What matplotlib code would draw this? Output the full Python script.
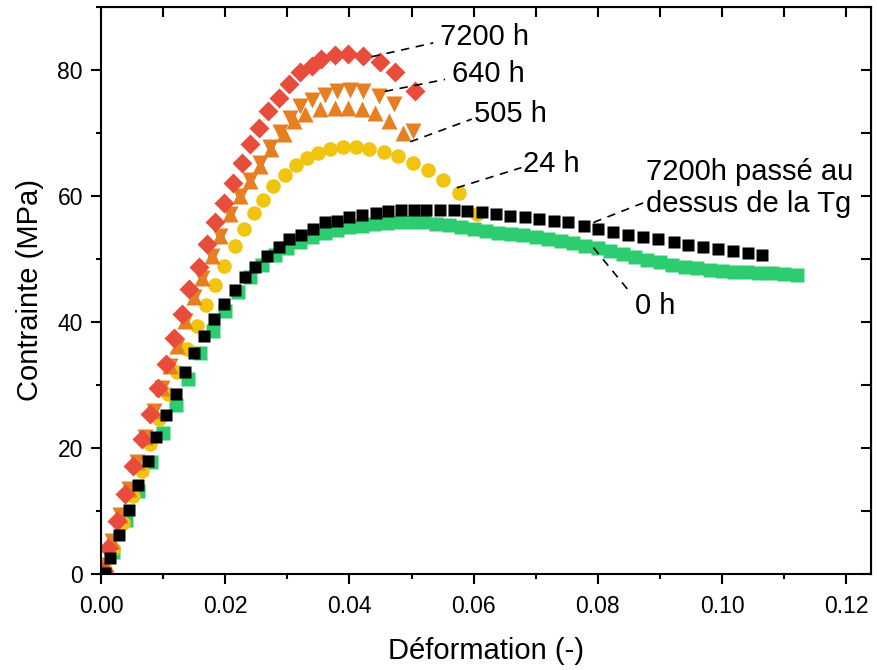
import matplotlib
matplotlib.use('Agg')
import matplotlib.pyplot as plt
from matplotlib.ticker import MultipleLocator
from matplotlib import font_manager

plt.rcParams['font.family'] = ['Liberation Sans', 'DejaVu Sans']

# 0 h (vert)
x_0h = [0.000, 0.002, 0.004, 0.006, 0.008, 0.010, 0.012, 0.014, 0.016, 0.018,
        0.020, 0.022, 0.024, 0.026, 0.028, 0.030, 0.032, 0.034, 0.036, 0.038,
        0.040, 0.042, 0.044, 0.046, 0.048, 0.050, 0.052, 0.054, 0.056, 0.058,
        0.060, 0.062, 0.064, 0.066, 0.068, 0.070, 0.072, 0.074, 0.076, 0.078,
        0.080, 0.082, 0.084, 0.086, 0.088, 0.090, 0.092, 0.094, 0.096, 0.098,
        0.100, 0.102, 0.104, 0.106, 0.108, 0.110, 0.112]
y_0h = [0.0, 3.5, 8.5, 13.2, 17.8, 22.3, 26.8, 31.0, 35.0, 38.6,
        41.8, 44.8, 47.2, 49.1, 50.6, 51.8, 52.7, 53.5, 54.1, 54.6,
        55.0, 55.3, 55.5, 55.7, 55.8, 55.8, 55.8, 55.6, 55.4, 55.1,
        54.8, 54.5, 54.2, 54.0, 53.8, 53.5, 53.1, 52.8, 52.5, 52.1,
        51.7, 51.2, 50.8, 50.3, 49.9, 49.5, 49.1, 48.8, 48.5, 48.3,
        48.1, 48.0, 47.9, 47.8, 47.7, 47.6, 47.5]

# 24 h (jaune)
x_24h = [0.0006, 0.0020, 0.0035, 0.0051, 0.0066, 0.0079, 0.0094, 0.0108, 0.0123, 0.0139,
         0.0154, 0.0169, 0.0184, 0.0198, 0.0216, 0.0230, 0.0246, 0.0261, 0.0277, 0.0296,
         0.0314, 0.0331, 0.0350, 0.0369, 0.0390, 0.0411, 0.0432, 0.0455, 0.0479, 0.0503,
         0.0527, 0.0551, 0.0577, 0.0605]
y_24h = [0.8, 3.9, 8.1, 12.4, 16.3, 20.6, 24.6, 28.5, 32.1, 35.7,
         39.4, 42.7, 45.9, 48.9, 52.1, 54.7, 57.3, 59.3, 61.6, 63.4,
         64.9, 66.1, 66.9, 67.4, 67.8, 67.8, 67.4, 67.0, 66.3, 65.3,
         64.2, 62.6, 60.5, 57.1]

# 505 h (triangles)
x_505h = [0.0006, 0.0018, 0.0031, 0.0045, 0.0058, 0.0071, 0.0085, 0.0098, 0.0111, 0.0122,
          0.0135, 0.0149, 0.0162, 0.0178, 0.0192, 0.0208, 0.0224, 0.0240, 0.0256, 0.0274,
          0.0294, 0.0310, 0.0328, 0.0353, 0.0377, 0.0398, 0.0420, 0.0441, 0.0463, 0.0487]
y_505h = [1.5, 5.2, 9.3, 13.5, 17.8, 21.8, 25.8, 29.5, 33.0, 36.2,
          40.2, 43.9, 47.0, 50.5, 53.7, 57.1, 60.0, 62.3, 64.8, 67.4,
          69.8, 71.9, 73.0, 73.8, 74.0, 74.0, 73.8, 73.2, 71.9, 70.0]

# 640 h (triangles inverses)
x_640h = [0.0006, 0.0018, 0.0031, 0.0045, 0.0058, 0.0071, 0.0085, 0.0098, 0.0111, 0.0122,
          0.0135, 0.0149, 0.0162, 0.0178, 0.0192, 0.0208, 0.0224, 0.0240, 0.0256, 0.0272,
          0.0288, 0.0304, 0.0320, 0.0339, 0.0361, 0.0380, 0.0401, 0.0422, 0.0447, 0.0471,
          0.0503]
y_640h = [1.5, 5.2, 9.3, 13.5, 17.8, 21.8, 25.8, 29.5, 33.0, 36.2,
          40.2, 43.9, 47.0, 50.5, 53.7, 57.1, 60.0, 62.5, 65.3, 67.8,
          70.2, 72.4, 74.3, 75.3, 76.1, 76.6, 76.8, 76.6, 75.9, 74.6,
          70.3]

# 7200 h (losanges)
x_7200h = [0.0004, 0.0012, 0.0025, 0.0039, 0.0052, 0.0066, 0.0079, 0.0092, 0.0105, 0.0118,
           0.0130, 0.0142, 0.0157, 0.0170, 0.0184, 0.0198, 0.0212, 0.0227, 0.0240, 0.0255,
           0.0269, 0.0286, 0.0302, 0.0320, 0.0339, 0.0355, 0.0377, 0.0398, 0.0422, 0.0449,
           0.0473, 0.0506]
y_7200h = [0.5, 4.2, 8.4, 12.7, 17.1, 21.4, 25.4, 29.5, 33.4, 37.4,
           41.3, 45.2, 48.7, 52.3, 55.8, 58.9, 62.1, 65.3, 68.2, 70.8,
           73.5, 75.6, 77.7, 79.6, 80.6, 81.7, 82.3, 82.5, 82.2, 81.2,
           79.6, 76.7]

# 7200h passé au dessus de la Tg (carrés noirs)
x_tg = [0.0006, 0.00145, 0.0029, 0.0045, 0.0060, 0.0075, 0.0089, 0.0105, 0.0120, 0.0135,
        0.0150, 0.0166, 0.0182, 0.0198, 0.0215, 0.0232, 0.0248, 0.0267, 0.0286, 0.0302,
        0.0322, 0.0342, 0.0361, 0.0380, 0.0400, 0.0421, 0.0442, 0.0462, 0.0483, 0.0504,
        0.0524, 0.0546, 0.0568, 0.0590, 0.0613, 0.0636, 0.0659, 0.0683, 0.0706, 0.0729,
        0.0752, 0.0777, 0.0801, 0.0825, 0.0849, 0.0873, 0.0897, 0.0922, 0.0946, 0.0970,
        0.0994, 0.1018, 0.1042, 0.1064]
y_tg = [0.2, 2.5, 6.2, 10.2, 14.1, 17.9, 21.7, 25.2, 28.6, 32.0,
        35.0, 37.8, 40.5, 42.9, 45.1, 47.1, 48.8, 50.5, 51.9, 53.1,
        53.8, 54.7, 55.8, 56.0, 56.6, 57.0, 57.3, 57.6, 57.7, 57.7,
        57.8, 57.8, 57.8, 57.6, 57.4, 57.2, 56.9, 56.7, 56.3, 56.0,
        55.8, 55.2, 54.8, 54.3, 53.8, 53.5, 53.1, 52.7, 52.2, 51.9,
        51.6, 51.3, 51.0, 50.7]

# annotations : texte, position du texte, debut et fin du trait
labels = ['7200 h', '640 h', '505 h', '24 h', '7200h passé au\ndessus de la Tg', '0 h']
label_pos = [(0.0546, 85.2), (0.0565, 79.3), (0.0600, 73.0), (0.0680, 65.0),
             (0.0878, 61.3), (0.0860, 42.5)]
line_start = [(0.0436, 82.1), (0.0457, 76.6), (0.0498, 68.6), (0.0573, 61.3),
              (0.0793, 55.8), (0.0793, 51.8)]
line_end = [(0.0535, 84.3), (0.0554, 78.5), (0.0597, 72.2), (0.0677, 64.5),
            (0.0873, 58.9), (0.0852, 44.7)]

names = {f.name for f in font_manager.fontManager.ttflist}
narrow = 'Liberation Sans Narrow' if 'Liberation Sans Narrow' in names else 'Liberation Sans'

fig = plt.figure(figsize=(8.77, 6.7), dpi=100)
ax = fig.add_axes([0.1152, 0.1433, 0.878, 0.8463])

ax.plot(x_0h, y_0h, 's', color='#2ecc71', ms=10, mec='none')
ax.plot(x_24h, y_24h, 'o', color='#f1c40f', ms=10.5, mec='none')
ax.plot(x_505h, y_505h, '^', color='#e67e22', ms=12, mec='none')
ax.plot(x_640h, y_640h, 'v', color='#e67e22', ms=12, mec='none')
ax.plot(x_7200h, y_7200h, 'D', color='#e74c3c', ms=10, mec='none')
ax.plot(x_tg, y_tg, 's', color='black', ms=9, mec='none')

for txt, pos, a, b in zip(labels, label_pos, line_start, line_end):
    ax.plot([a[0], b[0]], [a[1], b[1]], color='black', lw=1.2, ls=(0, (5, 4)))
    ax.text(pos[0], pos[1], txt, fontsize=21, ha='left', va='center', linespacing=1.2)

ax.set_xlim(0, 0.124)
ax.set_ylim(0, 90)
ax.xaxis.set_minor_locator(MultipleLocator(0.01))
ax.yaxis.set_major_locator(MultipleLocator(20))
ax.yaxis.set_minor_locator(MultipleLocator(10))
ax.set_xticks([0.0, 0.02, 0.04, 0.06, 0.08, 0.10, 0.12])
ax.set_xticklabels(['0.00', '0.02', '0.04', '0.06', '0.08', '0.10', '0.12'])
for lab in ax.get_xticklabels():
    lab.set_family(narrow)
    lab.set_fontsize(17)

ax.tick_params(which='major', direction='out', length=7, width=1.5, labelsize=16.5, pad=6)
ax.tick_params(axis='x', which='major', pad=8)
ax.tick_params(which='minor', direction='out', length=3.5, width=1.5)
for s in ax.spines.values():
    s.set_linewidth(1.5)

top = ax.secondary_xaxis('top')
top.set_xticks([i * 0.01 for i in range(13)])
top.tick_params(direction='in', length=7, width=1.5, labeltop=False)
right = ax.secondary_yaxis('right')
right.set_yticks([i * 10 for i in range(10)])
right.tick_params(direction='in', length=7, width=1.5, labelright=False)

ax.set_xlabel('Déformation (-)', fontsize=21, family=narrow, labelpad=14)
ax.set_ylabel('Contrainte (MPa)', fontsize=21, labelpad=10)

fig.savefig('out.png', dpi=100)
